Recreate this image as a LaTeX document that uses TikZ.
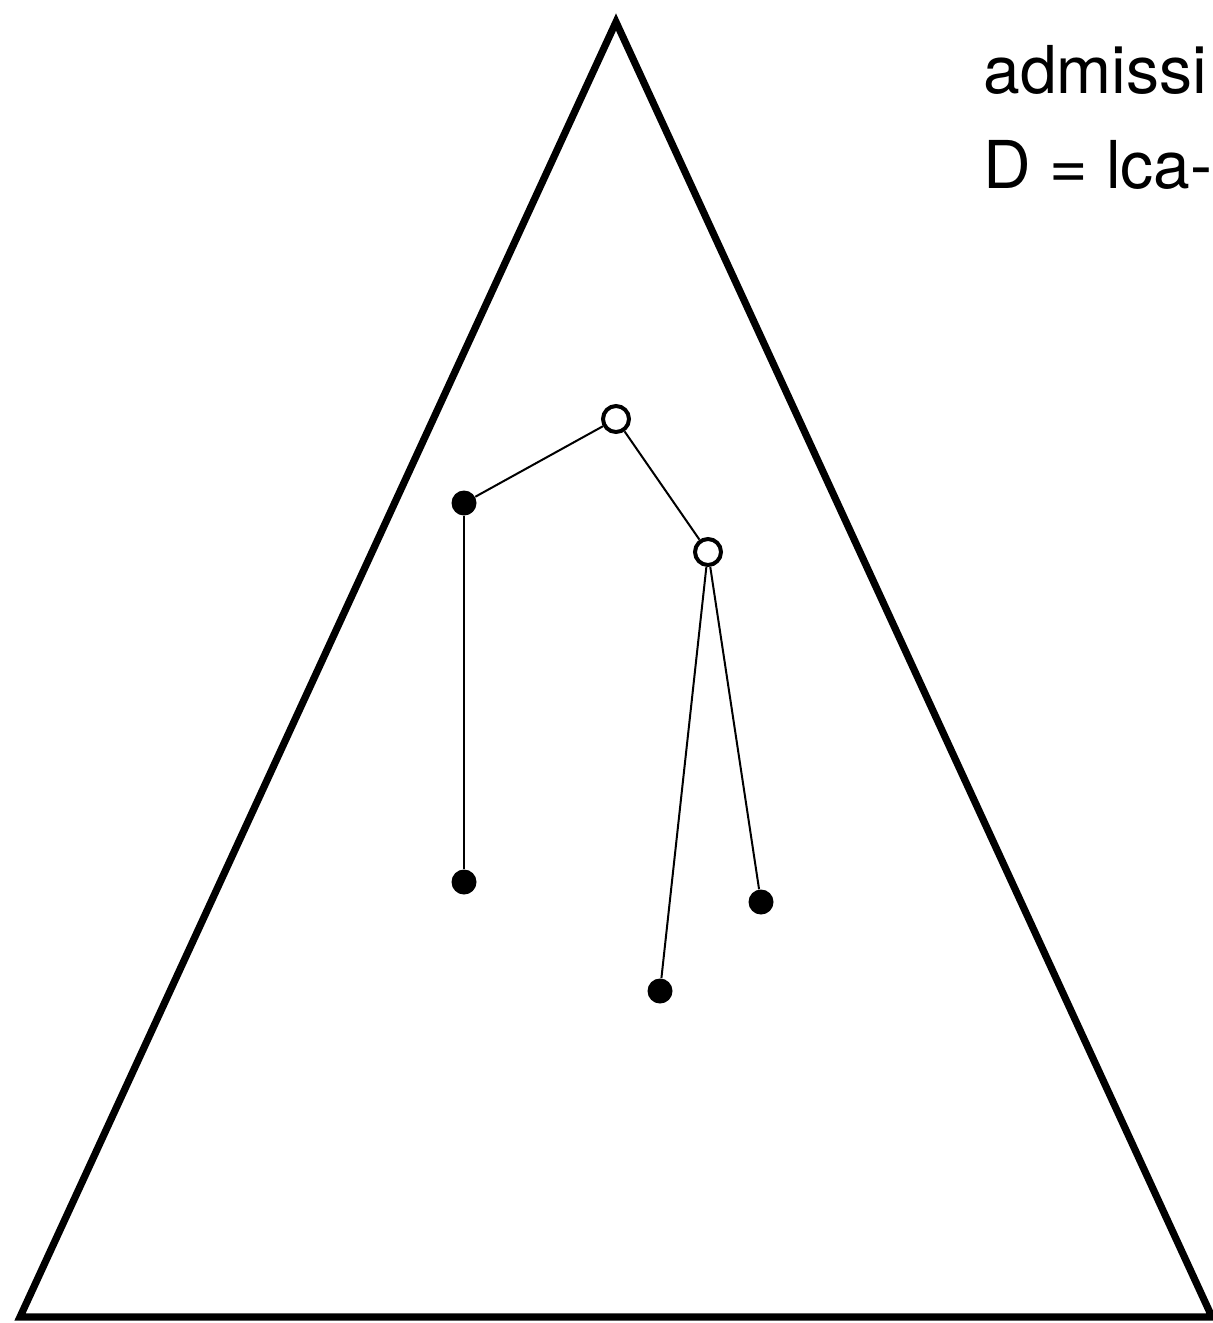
\documentclass[tikz,border=0pt]{standalone}
\usepackage{fontspec}
\setmainfont{TeX Gyre Heros}
\begin{document}
\begin{tikzpicture}[x=0.5pt,y=-0.5pt,
  tri/.style={line width=3.6pt, line join=miter},
  edge/.style={line width=1pt},
  openv/.style={circle, draw, fill=white, line width=2pt, minimum size=13pt, inner sep=0pt},
  fullv/.style={circle, fill=black, minimum size=12.5pt, inner sep=0pt},
  lbl/.style={anchor=base west, inner sep=0pt, font=\fontsize{33pt}{40pt}\selectfont}]
\useasboundingbox (0,0) rectangle (1213,1323);
\clip (0,0) rectangle (1213,1323);
\fill[white] (0,0) rectangle (1213,1323);
\coordinate (apex) at (616,22);
\coordinate (bl) at (20,1317);
\coordinate (br) at (1212,1317);
\draw[tri] (apex) -- (bl) -- (br) -- cycle;
\node[openv] (r) at (616,419) {};
\node[openv] (m) at (708,552) {};
\node[fullv] (a) at (464,503) {};
\node[fullv] (b) at (464,882) {};
\node[fullv] (c) at (761,902) {};
\node[fullv] (d) at (660,991) {};
\draw[edge] (a) -- (r);
\draw[edge] (r) -- (m);
\draw[edge] (a) -- (b);
\draw[edge] (m) -- (d);
\draw[edge] (m) -- (c);
\node[lbl] (t1) at (983,93) {admissi};
\node[lbl] (t2) at (983,188) {D = lca-};
\end{tikzpicture}
\end{document}
